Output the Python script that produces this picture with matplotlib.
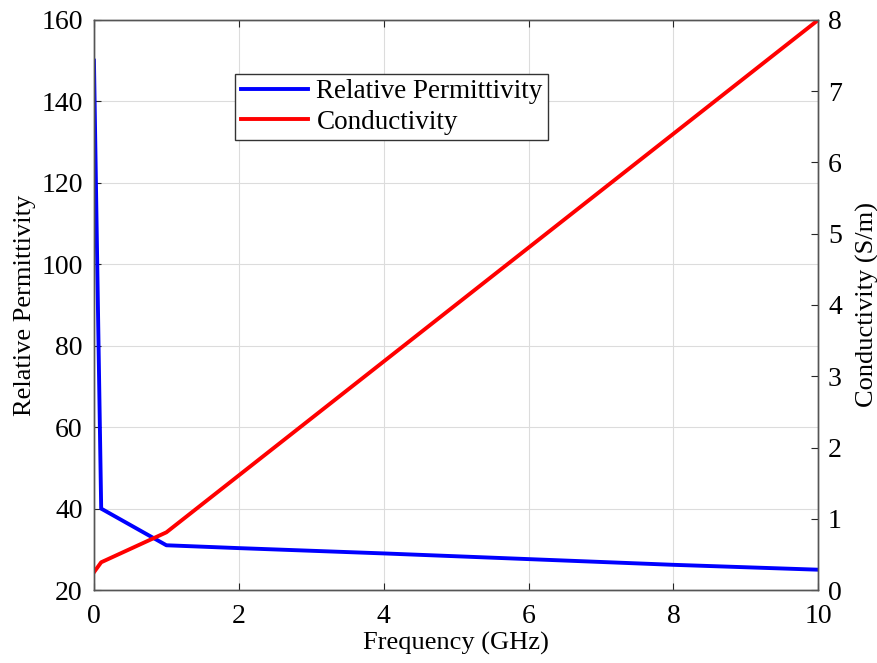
import matplotlib.pyplot as plt

plt.rcParams['font.family'] = ['Liberation Serif', 'DejaVu Serif']

# data
freq_perm = [0, 0.1, 1, 2, 4, 6, 8, 10]
permittivity = [150, 40, 31, 30.3, 29.0, 27.6, 26.2, 25.0]
freq_cond = [0, 0.1, 1, 10]
conductivity = [0.25, 0.39, 0.81, 8.0]

x_ticks = [0, 2, 4, 6, 8, 10]
perm_ticks = [20, 40, 60, 80, 100, 120, 140, 160]
cond_ticks = [0, 1, 2, 3, 4, 5, 6, 7, 8]


def main():
    fig, ax1 = plt.subplots(figsize=(8.78, 6.63), dpi=100)
    fig.subplots_adjust(left=0.107, right=0.932, top=0.970, bottom=0.110)
    ax2 = ax1.twinx()

    l1, = ax1.plot(freq_perm, permittivity, color='#0000ff', lw=2.8,
                   label='Relative Permittivity')
    l2, = ax2.plot(freq_cond, conductivity, color='#ff0000', lw=2.8,
                   label='Conductivity')

    ax1.set_xlim(0, 10)
    ax1.set_ylim(20, 160)
    ax2.set_ylim(0, 8)
    ax1.set_xticks(x_ticks)
    ax1.set_yticks(perm_ticks)
    ax2.set_yticks(cond_ticks)

    ax1.grid(True, color='#dcdcdc', lw=0.8)
    ax1.set_axisbelow(True)

    for ax in (ax1, ax2):
        ax.tick_params(direction='in', labelsize=20, colors='#262626',
                       labelcolor='black', length=5)
        for sp in ax.spines.values():
            sp.set_color('#555555')
            sp.set_linewidth(1.0)
    ax1.tick_params(axis='x', top=True, pad=10)
    ax1.tick_params(axis='y', pad=8)
    ax2.tick_params(axis='y', pad=7)

    ax1.set_xlabel('Frequency (GHz)', fontsize=19, labelpad=2)
    ax1.set_ylabel('Relative Permittivity', fontsize=19, labelpad=4)
    ax2.set_ylabel('Conductivity (S/m)', fontsize=19, labelpad=10)

    leg = ax2.legend([l1, l2], ['Relative Permittivity', 'Conductivity'],
                     loc='upper left', bbox_to_anchor=(0.195, 0.905),
                     fontsize=19.5, fancybox=False, framealpha=1,
                     edgecolor='#333333', handlelength=2.5,
                     borderpad=0.2, labelspacing=0.2, handletextpad=0.3,
                     borderaxespad=0)
    leg.get_frame().set_linewidth(1.0)

    fig.savefig('out.png')


if __name__ == '__main__':
    main()
